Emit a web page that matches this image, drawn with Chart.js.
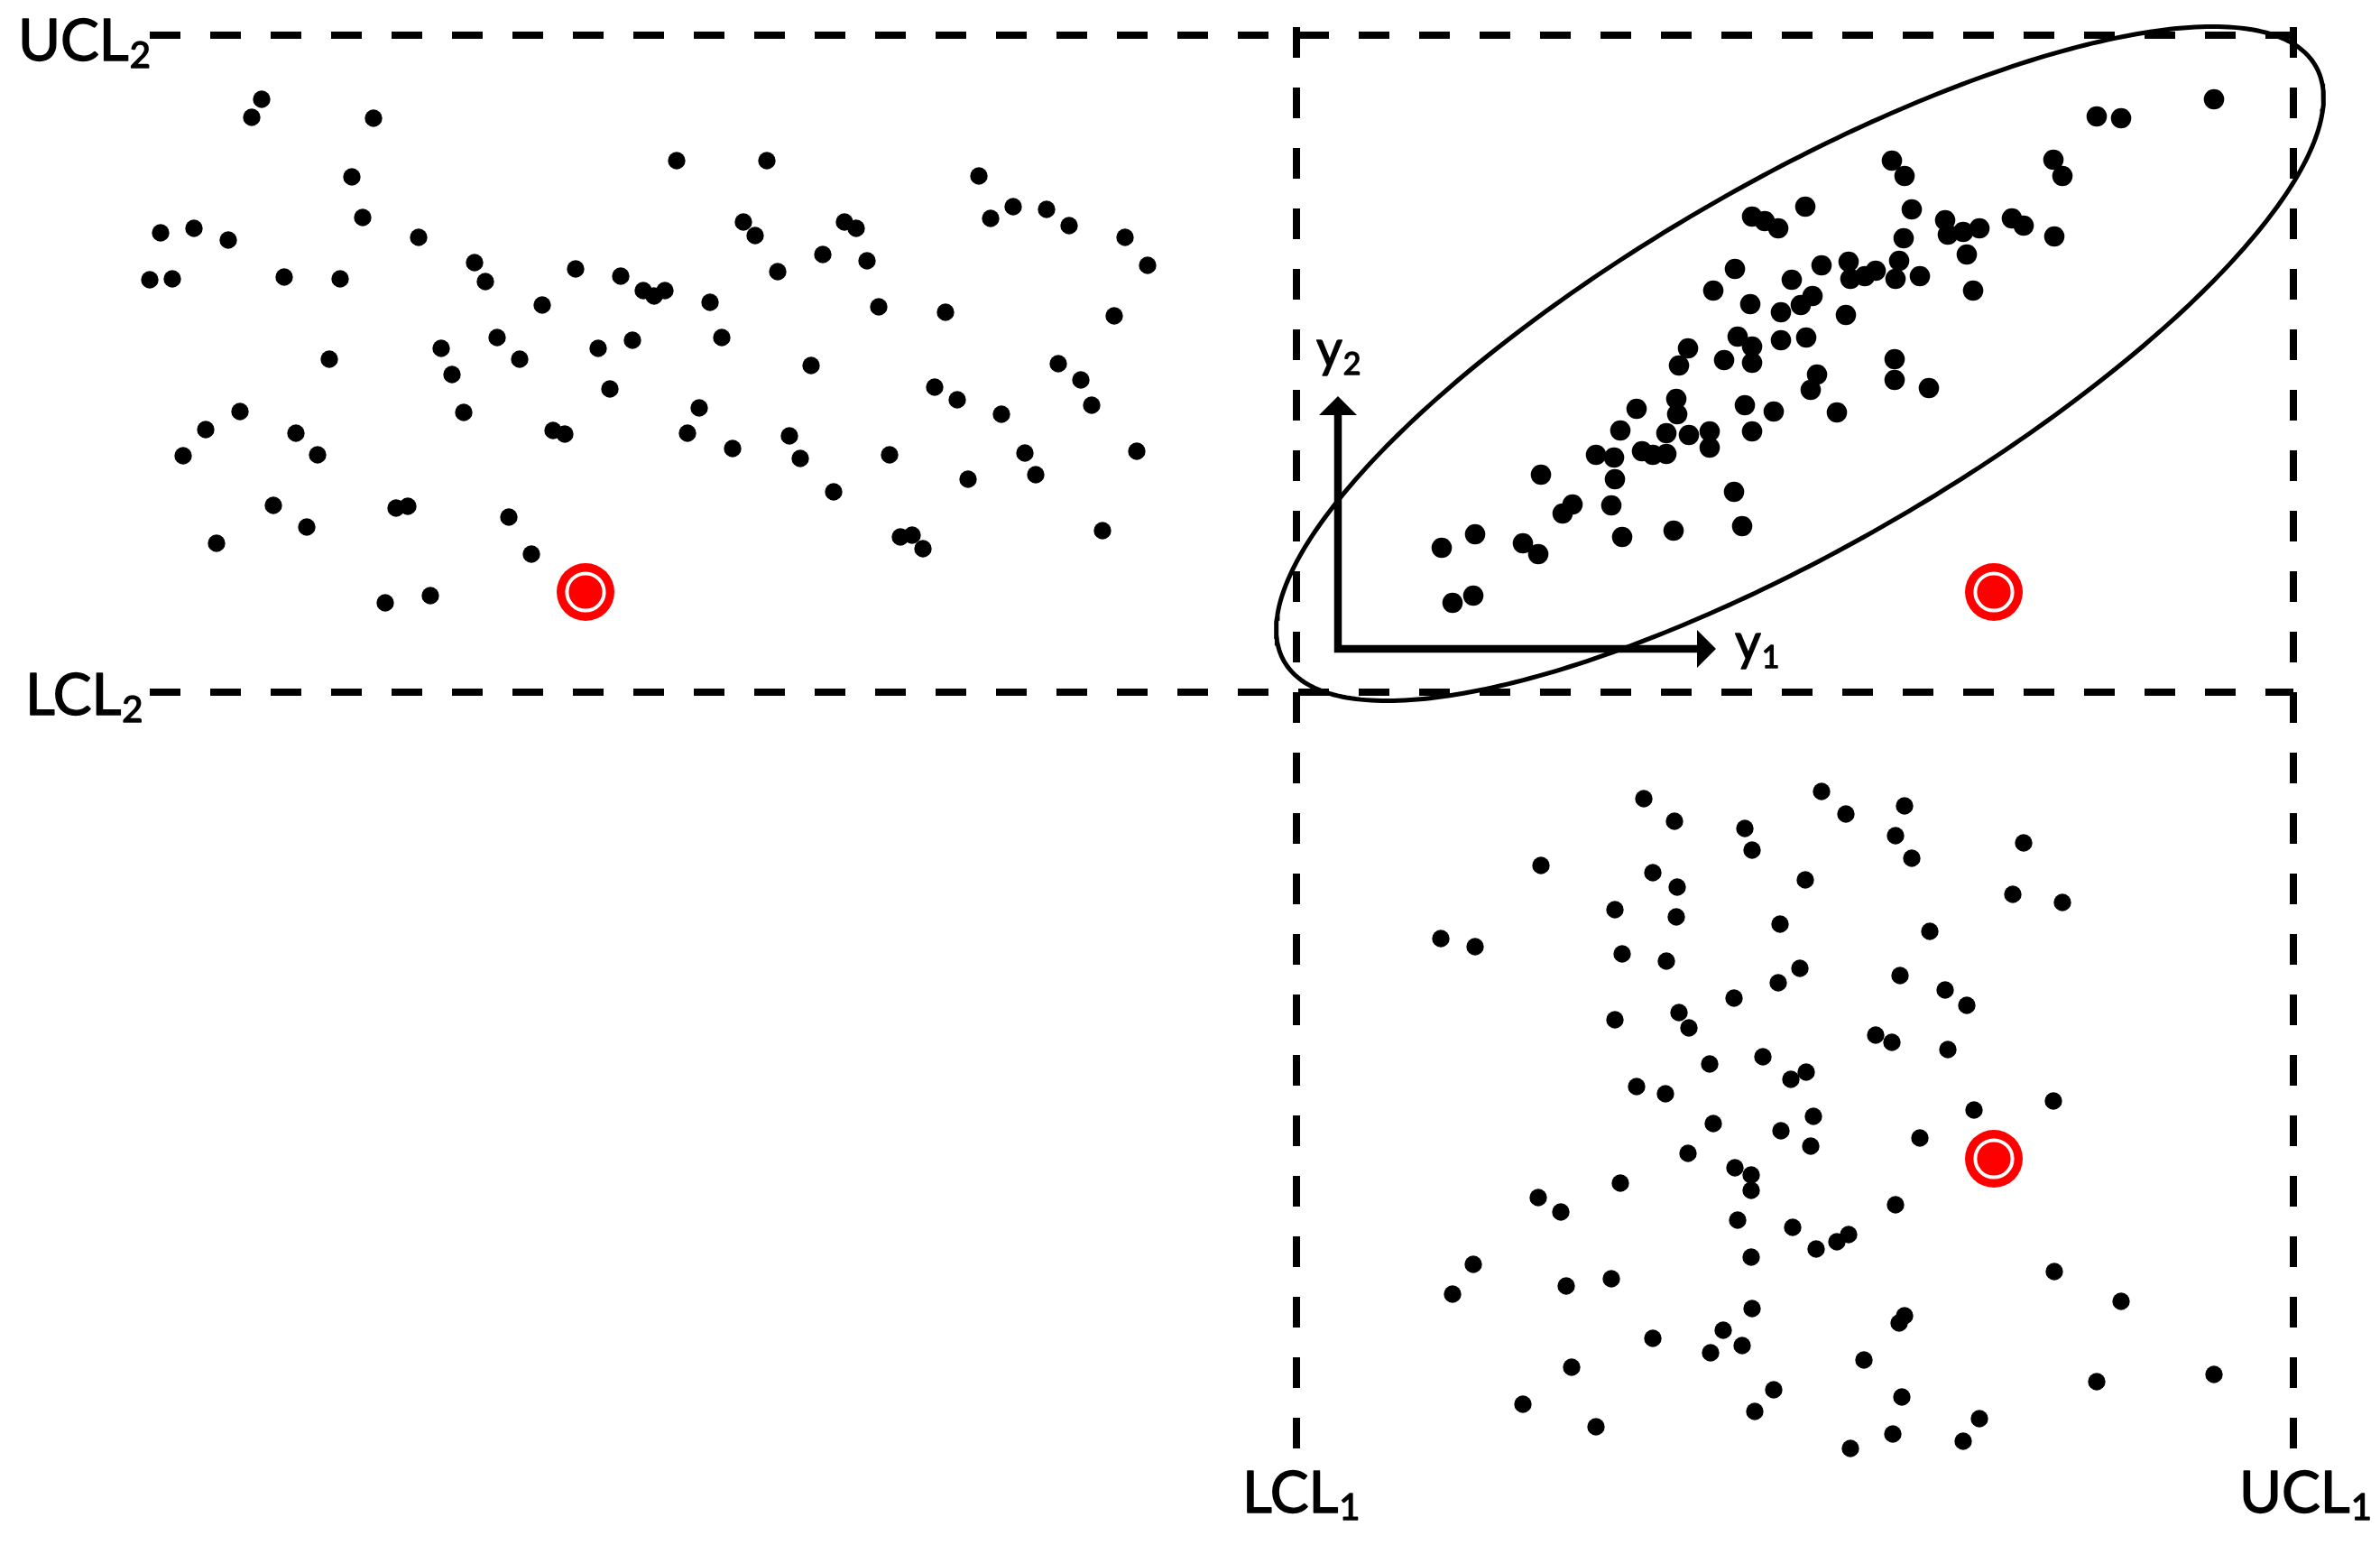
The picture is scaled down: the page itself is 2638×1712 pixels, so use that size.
<!DOCTYPE html>
<html>
<head>
<meta charset="utf-8">
<script src="https://cdn.jsdelivr.net/npm/chart.js@4/dist/chart.umd.min.js"></script>
<style>
html,body{margin:0;padding:0;background:#fff;}
#wrap{width:2638px;height:1712px;}
</style>
</head>
<body>
<div id="wrap"><canvas id="c" width="2638" height="1712"></canvas></div>
<script>
// ---- values (units: y1 horizontal, y2 vertical, origin top-left) ----
const upperLeftGroup = [
[290,110],[279,130],[414,131],[390,196],[402,241],[178,258],[215,253],[253,266],[464,263],[526,291],
[538,312],[638,298],[688,306],[166,310],[191,309],[315,307],[377,309],[601,338],[551,374],[489,386],
[576,398],[501,415],[663,386],[701,377],[676,431],[365,398],[514,457],[613,477],[626,481],[266,456],
[228,476],[328,480],[203,505],[352,504],[303,560],[340,584],[240,602],[439,563],[452,561],[564,573],
[589,614],[427,668],[477,660],
[750,178],[850,178],[1085,195],[824,246],[837,261],[936,246],[949,253],[1098,242],[1123,229],[1160,232],
[1185,250],[1247,263],[1272,294],[912,282],[961,289],[862,301],[713,322],[725,328],[737,322],[787,335],
[974,340],[1048,346],[1235,350],[800,374],[899,405],[1173,403],[1198,421],[1210,449],[1036,429],[1061,443],
[1110,459],[775,452],[762,480],[812,497],[875,483],[887,508],[986,504],[1136,502],[1148,526],[1260,500],
[1073,531],[924,545],[998,595],[1011,593],[1023,608],[1222,588]
];
const correlatedGroup = [
[2454,110],[2324,129],[2351,131],[2097,178],[2111,195],[2276,177],[2286,195],[2001,229],[1942,240],[1956,245],
[1971,253],[2119,232],[2156,244],[2159,260],[2176,257],[2194,253],[2230,242],[2243,250],[2277,262],[2110,264],
[2180,282],[2105,289],[2049,290],[2051,309],[2067,306],[2079,300],[2101,309],[2128,306],[2019,294],[1923,298],
[2187,322],[1899,322],[1986,310],[1940,337],[1974,346],[1996,338],[2009,328],[2046,349],[1926,373],[1942,384],
[1942,402],[1911,399],[1974,377],[2002,374],[1871,386],[1861,405],[2014,415],[2007,432],[2036,457],[2100,398],
[2100,421],[2138,430],[1858,442],[1859,459],[1934,449],[1966,456],[1942,478],[1847,480],[1872,482],[1895,478],
[1895,496],[1814,453],[1796,477],[1769,504],[1789,507],[1820,500],[1832,504],[1847,503],[1790,531],[1708,526],
[1922,545],[1743,559],[1732,569],[1786,560],[1798,595],[1855,588],[1931,583],[1635,592],[1598,607],[1688,602],
[1705,614],[1633,660],[1610,668]
];
const lowerRightGroup = [
[1822,885],[1856,910],[2019,877],[1934,918],[1942,942],[1708,959],[1832,967],[1859,983],[2001,975],[1790,1008],
[1858,1016],[1973,1024],[1597,1040],[1635,1049],[1798,1057],[1847,1065],[1995,1073],[1971,1089],[1922,1106],[1790,1130],
[1861,1122],[1872,1139],[1895,1179],[1954,1171],[1985,1196],[2002,1188],[1814,1204],[1846,1212],[2010,1237],
[2046,902],[2111,893],[2101,926],[2119,951],[2243,934],[2231,991],[2286,1000],[2139,1032],[2106,1081],[2156,1097],
[2180,1114],[2079,1147],[2097,1155],[2159,1163],[2188,1230],[2276,1220],
[1899,1245],[1974,1253],[1871,1278],[2007,1270],[1923,1294],[1941,1302],[1941,1319],[1796,1311],[1705,1327],[1730,1343],
[1926,1352],[1987,1360],[2013,1384],[1941,1393],[1633,1401],[1610,1434],[1736,1425],[1786,1417],[1942,1450],[1832,1483],
[1910,1474],[1931,1491],[1896,1499],[1742,1515],[1966,1540],[1945,1564],[1688,1556],[1769,1581],
[2128,1261],[2101,1335],[2049,1368],[2036,1376],[2277,1409],[2351,1442],[2111,1458],[2105,1466],[2066,1507],[2324,1531],
[2454,1523],[2108,1548],[2194,1572],[2098,1589],[2176,1597],[2051,1605]
];
const signalPoints = [[649,656],[2210,656],[2210,1284]];

// control limits
const y1Limits = [1437, 2542];   // LCL1, UCL1
const y2Limits = [767, 39];      // LCL2, UCL2
const y1LimitLabels = ['LCL', 'UCL'];
const y2LimitLabels = ['LCL', 'UCL'];

// confidence ellipse (center, semi-axes, tilt in degrees)
const ellipseCenter = [1995, 403];
const ellipseAxes = [660, 202];
const ellipseTilt = 30;

// y1/y2 reference axes
const axisOrigin = [1483, 719];
const axisTips = [[1902, 719], [1483, 439]];

// ---- helpers ----
const toXY = arr => arr.map(p => ({x: p[0], y: p[1]}));
function ellipseOutline() {
  const pts = [];
  const th = ellipseTilt * Math.PI / 180;
  for (let i = 0; i <= 360; i++) {
    const t = i * Math.PI / 180;
    const ca = ellipseAxes[0] * Math.cos(t), sb = ellipseAxes[1] * Math.sin(t);
    pts.push({x: ellipseCenter[0] + ca * Math.cos(th) + sb * Math.sin(th),
              y: ellipseCenter[1] - ca * Math.sin(th) + sb * Math.cos(th)});
  }
  return pts;
}
const dash = [34, 33];
function limitLine(data) {
  return {data, showLine: true, borderColor: '#000', borderWidth: 8, borderDash: dash,
          pointRadius: 0, borderCapStyle: 'butt', order: 10, tension: 0};
}
function dots(arr, r, order) {
  return {data: toXY(arr), pointRadius: r, pointHoverRadius: r, backgroundColor: '#000',
          borderWidth: 0, showLine: false, order};
}

const datasets = [
  limitLine([{x: 166, y: y2Limits[1]}, {x: y1Limits[1], y: y2Limits[1]}]),
  limitLine([{x: 166, y: y2Limits[0]}, {x: y1Limits[1], y: y2Limits[0]}]),
  limitLine([{x: y1Limits[0], y: 30}, {x: y1Limits[0], y: 1606}]),
  limitLine([{x: y1Limits[1], y: 30}, {x: y1Limits[1], y: 1606}]),
  {data: ellipseOutline(), showLine: true, borderColor: '#000', borderWidth: 5, pointRadius: 0, order: 8, tension: 0},
  {data: [{x: axisTips[0][0] - 20, y: axisOrigin[1]}, {x: axisOrigin[0], y: axisOrigin[1]}, {x: axisOrigin[0], y: axisTips[1][1] + 20}],
   showLine: true, borderColor: '#000', borderWidth: 8.5, pointRadius: 0, borderJoinStyle: 'miter', borderCapStyle: 'butt', order: 7, tension: 0},
  dots(upperLeftGroup, 9.7, 5),
  dots(correlatedGroup, 11.3, 5),
  dots(lowerRightGroup, 9.7, 5),
  {data: toXY(signalPoints), pointRadius: 32, backgroundColor: '#ff0000', borderWidth: 0, showLine: false, order: 2},
  {data: toXY(signalPoints), pointRadius: 20.6, backgroundColor: '#ff0000', borderColor: '#ffffff', borderWidth: 4, showLine: false, order: 1}
];

const labels = [
  {main: y2LimitLabels[1], sub: '2', x: 20, y: 67, size: 64, subSize: 40, shift: 8},
  {main: y2LimitLabels[0], sub: '2', x: 28, y: 792, size: 64, subSize: 40, shift: 8},
  {main: y1LimitLabels[0], sub: '1', x: 1377, y: 1676, size: 64, subSize: 40, shift: 8},
  {main: y1LimitLabels[1], sub: '1', x: 2482, y: 1676, size: 64, subSize: 40, shift: 8},
  {main: 'y', sub: '2', x: 1459, y: 406, size: 56, subSize: 34, shift: 9},
  {main: 'y', sub: '1', x: 1923, y: 731, size: 56, subSize: 34, shift: 9}
];

const annotations = {
  id: 'annotations',
  afterDatasetsDraw(chart) {
    const {ctx, scales: {x, y}} = chart;
    ctx.save();
    ctx.fillStyle = '#000';
    ctx.strokeStyle = '#000';
    ctx.lineWidth = 1.4;
    ctx.lineJoin = 'round';
    const heads = [
      [[axisTips[0][0], axisTips[0][1]], [axisTips[0][0] - 21, axisTips[0][1] - 21], [axisTips[0][0] - 21, axisTips[0][1] + 21]],
      [[axisTips[1][0], axisTips[1][1]], [axisTips[1][0] - 21, axisTips[1][1] + 21], [axisTips[1][0] + 21, axisTips[1][1] + 21]]
    ];
    heads.forEach(h => {
      ctx.beginPath();
      h.forEach((p, i) => {
        const px = x.getPixelForValue(p[0]), py = y.getPixelForValue(p[1]);
        if (i) ctx.lineTo(px, py); else ctx.moveTo(px, py);
      });
      ctx.closePath();
      ctx.fill();
    });
    ctx.textAlign = 'left';
    ctx.textBaseline = 'alphabetic';
    labels.forEach(l => {
      const px = x.getPixelForValue(l.x), py = y.getPixelForValue(l.y);
      ctx.font = l.size + 'px Lato, "Open Sans", sans-serif';
      ctx.fillText(l.main, px, py);
      ctx.strokeText(l.main, px, py);
      const w = ctx.measureText(l.main).width;
      ctx.font = l.subSize + 'px Lato, "Open Sans", sans-serif';
      ctx.fillText(l.sub, px + w + 1, py + l.shift);
      ctx.strokeText(l.sub, px + w + 1, py + l.shift);
    });
    ctx.restore();
  }
};

new Chart(document.getElementById('c'), {
  type: 'scatter',
  data: {datasets},
  options: {
    responsive: false,
    animation: false,
    events: [],
    devicePixelRatio: 1,
    layout: {padding: 0, autoPadding: false},
    plugins: {legend: {display: false}, tooltip: {enabled: false}},
    scales: {
      x: {type: 'linear', min: 0, max: 2638, display: false},
      y: {type: 'linear', min: 0, max: 1712, reverse: true, display: false}
    }
  },
  plugins: [annotations]
});
</script>
</body>
</html>
